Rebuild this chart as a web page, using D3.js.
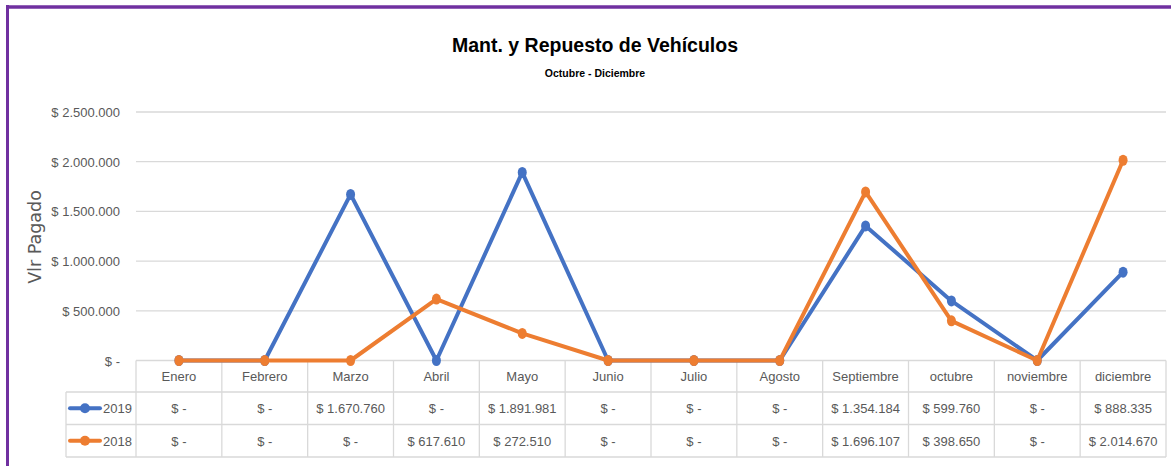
<!DOCTYPE html>
<html>
  <head>
    <meta charset="utf-8">
    <title>Mant. y Repuesto de Vehículos</title>
    <script src="https://d3js.org/d3.v7.min.js"></script>
    <style>
      body { margin: 0; background: #fff; }
      svg { display: block; }
    </style>
  </head>
  <body>
    <div id="chart"></div>
    <script>
      // chart data
      const months = ["Enero", "Febrero", "Marzo", "Abril", "Mayo", "Junio", "Julio",
        "Agosto", "Septiembre", "octubre", "noviembre", "diciembre"];
      const seriesNames = ["2019", "2018"];
      const values2019 = [0, 0, 1670760, 0, 1891981, 0, 0, 0, 1354184, 599760, 0, 888335];
      const values2018 = [0, 0, 0, 617610, 272510, 0, 0, 0, 1696107, 398650, 0, 2014670];
      const yTicks = [0, 500000, 1000000, 1500000, 2000000, 2500000];
      const colors = ["#4472C4", "#ED7D31"];

      const width = 1171;
      const height = 466;
      const font = "'Liberation Sans', Arial, sans-serif";

      const svg = d3.select("#chart")
        .append("svg")
        .attr("width", width)
        .attr("height", height);

      // frame: purple top and left edge
      svg.append("rect").attr("x", 0).attr("y", 0).attr("width", width).attr("height", height).attr("fill", "#fff");
      svg.append("line").attr("x1", 6).attr("x2", width).attr("y1", 7).attr("y2", 7)
        .attr("stroke", "#7030A0").attr("stroke-width", 3.5);
      svg.append("line").attr("x1", 7.5).attr("x2", 7.5).attr("y1", 5).attr("y2", height)
        .attr("stroke", "#7030A0").attr("stroke-width", 3);

      // plot scales
      const plotLeft = 136, plotRight = 1166;
      const x = d3.scaleBand().domain(months).range([plotLeft, plotRight]);
      const y = d3.scaleLinear().domain([0, 2500000]).range([360.5, 112]);

      // money format like "$ 1.670.760", zero as "$ -"
      const money = v => v === 0 ? "$ -" : "$ " + d3.format(",")(v).replace(/,/g, ".");

      // title
      svg.append("text").attr("x", 595).attr("y", 52).attr("text-anchor", "middle")
        .style("font-family", font).style("font-weight", "bold")
        .style("font-size", "19.5px").attr("fill", "#000").text("Mant. y Repuesto de Vehículos");
      svg.append("text").attr("x", 595).attr("y", 77).attr("text-anchor", "middle")
        .style("font-family", font).style("font-weight", "bold")
        .style("font-size", "10.5px").attr("fill", "#000").text("Octubre - Diciembre");

      // gridlines
      svg.append("g").selectAll("line")
        .data(yTicks.slice(1))
        .join("line")
        .attr("x1", plotLeft).attr("x2", plotRight)
        .attr("y1", d => y(d)).attr("y2", d => y(d))
        .attr("stroke", "#d9d9d9").attr("stroke-width", 1.3);

      // y axis labels
      svg.append("g").selectAll("text")
        .data(yTicks)
        .join("text")
        .attr("x", 120)
        .attr("y", d => y(d) + 5)
        .attr("text-anchor", "end")
        .style("font-family", font).style("font-size", "13px")
        .attr("fill", "#595959")
        .text(money);

      // y axis title
      svg.append("text")
        .attr("transform", "translate(41,237) rotate(-90)")
        .attr("text-anchor", "middle")
        .style("font-family", "'DejaVu Sans', Verdana, sans-serif").style("font-size", "17.5px")
        .attr("fill", "#595959")
        .text("Vlr Pagado");

      // data table
      const rowTop = [360.5, 392, 424.5];
      const rowH = [31.5, 32.5, 32.5];
      const tableBottom = 457;
      const legendLeft = 66;
      const grid = svg.append("g").attr("stroke", "#d9d9d9").attr("stroke-width", 1.3);

      // horizontal lines
      grid.append("line").attr("x1", plotLeft).attr("x2", plotRight).attr("y1", rowTop[0]).attr("y2", rowTop[0]);
      [rowTop[1], rowTop[2], tableBottom].forEach(yy => {
        grid.append("line").attr("x1", legendLeft).attr("x2", plotRight).attr("y1", yy).attr("y2", yy);
      });
      // vertical lines
      grid.append("line").attr("x1", legendLeft).attr("x2", legendLeft).attr("y1", rowTop[1]).attr("y2", tableBottom);
      months.forEach(m => {
        grid.append("line").attr("x1", x(m)).attr("x2", x(m)).attr("y1", rowTop[0]).attr("y2", tableBottom);
      });
      grid.append("line").attr("x1", plotRight).attr("x2", plotRight).attr("y1", rowTop[0]).attr("y2", tableBottom);

      const cellText = (xx, yy, t, anchor) => svg.append("text")
        .attr("x", xx).attr("y", yy).attr("text-anchor", anchor || "middle")
        .style("font-family", font).style("font-size", "13px")
        .attr("fill", "#595959").text(t);

      months.forEach(m => cellText(x(m) + x.bandwidth() / 2, rowTop[0] + rowH[0] / 2 + 5, m));

      const allSeries = [values2019, values2018];
      allSeries.forEach((vals, i) => {
        const cy = rowTop[i + 1] + rowH[i + 1] / 2;
        vals.forEach((v, j) => cellText(x(months[j]) + x.bandwidth() / 2, cy + 5, money(v)));
        // legend key
        svg.append("line").attr("x1", 70).attr("x2", 100).attr("y1", cy).attr("y2", cy)
          .attr("stroke", colors[i]).attr("stroke-width", 4).attr("stroke-linecap", "round");
        svg.append("circle").attr("cx", 85).attr("cy", cy).attr("r", 5).attr("fill", colors[i]);
        cellText(103, cy + 5, seriesNames[i], "start");
      });

      // lines: 2018 drawn after 2019, it sits on top in the picture
      const line = d3.line()
        .x((d, i) => x(months[i]) + x.bandwidth() / 2)
        .y(d => y(d));

      [0, 1].forEach(i => {
        const g = svg.append("g");
        g.append("path")
          .datum(allSeries[i])
          .attr("d", line)
          .attr("fill", "none")
          .attr("stroke", colors[i])
          .attr("stroke-width", 4)
          .attr("stroke-linejoin", "round");
        g.selectAll("ellipse")
          .data(allSeries[i])
          .join("ellipse")
          .attr("cx", (d, j) => x(months[j]) + x.bandwidth() / 2)
          .attr("cy", d => y(d))
          .attr("rx", 4.5)
          .attr("ry", 5.5)
          .attr("fill", colors[i]);
      });
    </script>
  </body>
</html>
